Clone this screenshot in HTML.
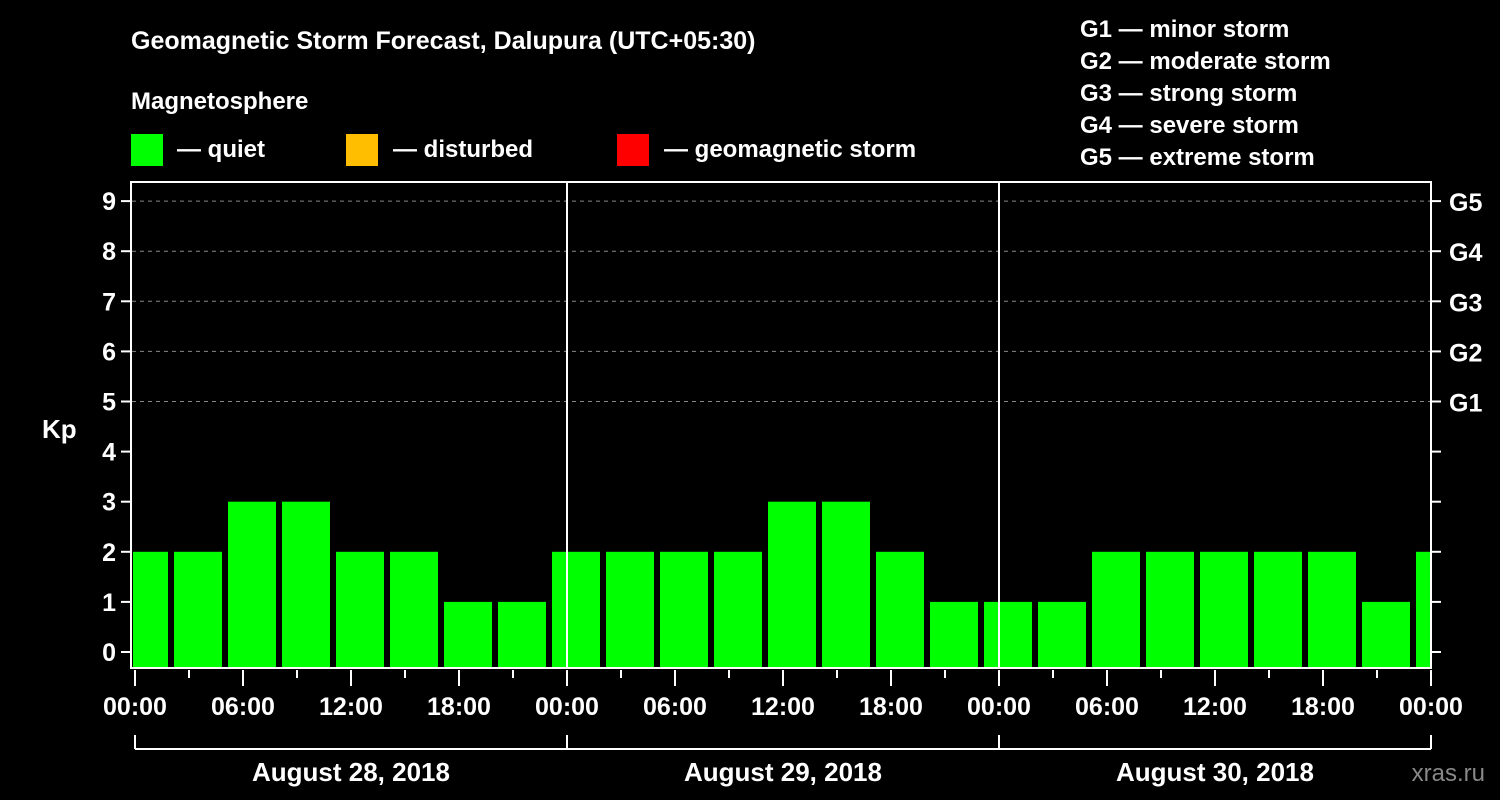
<!DOCTYPE html>
<html><head><meta charset="utf-8"><style>
html,body{margin:0;padding:0;background:#000;}
svg{display:block;font-family:"Liberation Sans",Arial,sans-serif;font-weight:bold;}
</style></head><body>
<svg id="chart" width="1500" height="800" viewBox="0 0 1500 800">
<rect width="1500" height="800" fill="#000"/>
<text x="131" y="49" fill="#fff" font-size="25">Geomagnetic Storm Forecast, Dalupura (UTC+05:30)</text>
<text x="131" y="109" fill="#fff" font-size="24">Magnetosphere</text>
<g><rect x="131" y="134" width="32" height="32" fill="#00ff00"/><text x="177" y="157" fill="#fff" font-size="24">— quiet</text></g>
<g><rect x="346" y="134" width="32" height="32" fill="#ffbf00"/><text x="393" y="157" fill="#fff" font-size="24">— disturbed</text></g>
<g><rect x="617" y="134" width="32" height="32" fill="#ff0000"/><text x="664" y="157" fill="#fff" font-size="24">— geomagnetic storm</text></g>
<g fill="#fff" font-size="24">
<text x="1080" y="37">G1 — minor storm</text>
<text x="1080" y="69">G2 — moderate storm</text>
<text x="1080" y="101">G3 — strong storm</text>
<text x="1080" y="133">G4 — severe storm</text>
<text x="1080" y="165">G5 — extreme storm</text>
</g>
<text x="42" y="438" fill="#fff" font-size="26">Kp</text>
<text x="1485" y="781" fill="#888" font-size="24" text-anchor="end" font-weight="normal">xras.ru</text>
<defs><clipPath id="plotclip"><rect x="133" y="182" width="1298" height="486"/></clipPath></defs>
<g id="grid"></g>
<g id="bars" clip-path="url(#plotclip)"></g>
<g id="axes"></g>
</svg>
<script>
const kpValues=[2,2,3,3,2,2,1,1,2,2,2,2,3,3,2,1,1,1,2,2,2,2,2,1,2];
const yTicks=[0,1,2,3,4,5,6,7,8,9];
const gLabels=["G1","G2","G3","G4","G5"];
const hourLabels=["00:00","06:00","12:00","18:00"];
const dayLabels=["August 28, 2018","August 29, 2018","August 30, 2018"];
const firstSlotHour=-1; // slot start hour of first bar (local), 3h slots
const NS="http://www.w3.org/2000/svg";
const X0=135,PXH=18,Y0=652,PXU=50.1,TOP=182,BOT=668,RIGHT=1431;
const x=h=>X0+h*PXH;
const y=v=>Y0-v*PXU;
function mk(tag,attrs,parent){const e=document.createElementNS(NS,tag);for(const k in attrs)e.setAttribute(k,attrs[k]);parent.appendChild(e);return e;}
const grid=document.getElementById('grid'),bars=document.getElementById('bars'),axes=document.getElementById('axes');
// grid lines for G levels
for(let v=5;v<=9;v++){
  const l=mk('line',{x1:132,x2:RIGHT,y1:y(v),y2:y(v),stroke:'#888','stroke-dasharray':'4,4','stroke-width':1},grid);
  
  
}
// bars
kpValues.forEach((v,i)=>{
  const s=firstSlotHour+i*3;
  const r=mk('rect',{x:x(s)+3,y:y(v),width:48,height:BOT-y(v),fill:'#00ff00'},bars);
  
  
});
// frame
const fr=mk('rect',{x:131,y:TOP,width:RIGHT-131,height:BOT-TOP,fill:'none',stroke:'#fff','stroke-width':2},axes);


for(let d=1;d<3;d++){
  const l=mk('line',{x1:x(d*24),x2:x(d*24),y1:TOP,y2:BOT,stroke:'#fff','stroke-width':2},axes);
  
  
}
yTicks.forEach(v=>{
  mk('line',{x1:121,x2:131,y1:y(v),y2:y(v),stroke:'#fff','stroke-width':2},axes);
  mk('line',{x1:RIGHT,x2:RIGHT+10,y1:y(v),y2:y(v),stroke:'#fff','stroke-width':2},axes);
  const t=mk('text',{x:116,y:y(v)+9,fill:'#fff','font-size':25,'text-anchor':'end'},axes);
  t.textContent=v;
  
  
});
gLabels.forEach((g,i)=>{
  const t=mk('text',{x:1449,y:y(5+i)+10,fill:'#fff','font-size':25},axes);
  t.textContent=g;
  
  
});
for(let h=0;h<=72;h+=3){
  const major=h%6===0;
  mk('line',{x1:x(h),x2:x(h),y1:BOT+2,y2:BOT+(major?18:10),stroke:'#fff','stroke-width':2},axes);
  if(major){
    const t=mk('text',{x:x(h),y:715,fill:'#fff','font-size':25,'text-anchor':'middle'},axes);
    t.textContent=hourLabels[(h/6)%4];
    
    
  }
}
mk('line',{x1:x(0),x2:x(72),y1:749,y2:749,stroke:'#fff','stroke-width':2},axes);
for(let d=0;d<=3;d++) mk('line',{x1:x(d*24),x2:x(d*24),y1:735,y2:749,stroke:'#fff','stroke-width':2},axes);
dayLabels.forEach((lab,d)=>{
  const t=mk('text',{x:x(d*24+12),y:781,fill:'#fff','font-size':26,'text-anchor':'middle'},axes);
  t.textContent=lab;
  
  
});
</script>
</body></html>
